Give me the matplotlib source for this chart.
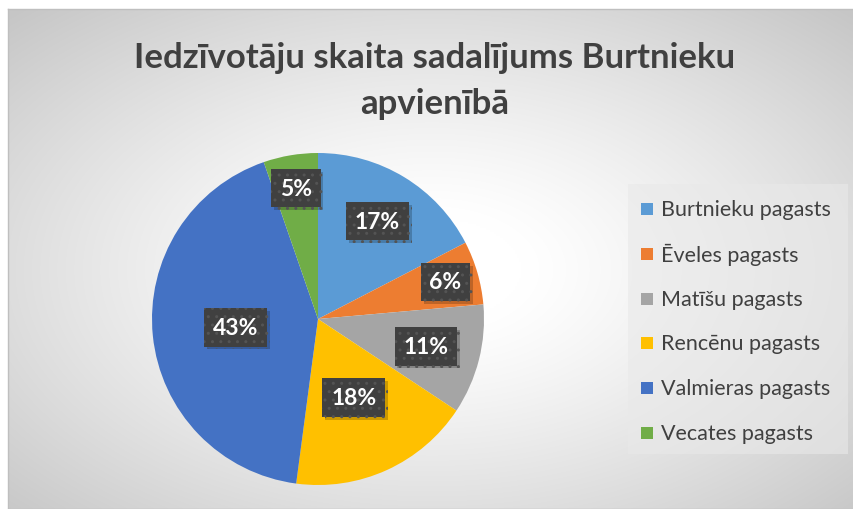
import numpy as np
import matplotlib
matplotlib.use("Agg")
import matplotlib.pyplot as plt
from matplotlib.patches import Rectangle
import matplotlib.patheffects as pe

categories = ["Burtnieku pagasts", "Ēveles pagasts", "Matīšu pagasts",
              "Rencēnu pagasts", "Valmieras pagasts", "Vecates pagasts"]
shares = [17.4, 6.2, 10.7, 17.8, 42.6, 5.3]
colors = ["#5B9BD5", "#ED7D31", "#A5A5A5", "#FFC000", "#4472C4", "#70AD47"]
title_lines = ["Iedzīvotāju skaita sadalījums Burtnieku", "apvienībā"]

label_radius = [0.69, 0.80, 0.67, 0.52, 0.50, 0.80]

FONT = ["Lato", "DejaVu Sans"]
plt.rcParams['font.family'] = FONT

W, H = 854, 510
fig = plt.figure(figsize=(W / 100, H / 100), dpi=100)
fig.patch.set_facecolor("white")

# background radial gradient chart area
bx0, by0 = 8, 10  # left, top in px
bg = fig.add_axes([bx0 / W, 0, (W - bx0) / W, (H - by0) / H], zorder=0)
ny, nx = 250, 420
yy, xx = np.mgrid[0:ny, 0:nx]
cx, cy = nx * 0.5, ny * 0.52
r = np.sqrt(((xx - cx) / (nx * 0.5)) ** 2 + ((yy - cy) / (ny * 0.5)) ** 2) / np.sqrt(2)
val = 1.0 - 0.22 * np.clip((r - 0.15) / 0.85, 0, 1) ** 1.2
img = np.dstack([val, val, val])
bg.imshow(img, aspect="auto", extent=[0, 1, 0, 1], interpolation="bilinear")
bg.set_xlim(0, 1); bg.set_ylim(0, 1)
bg.set_xticks([]); bg.set_yticks([])
for s in bg.spines.values():
    s.set_color("#bfbfbf"); s.set_linewidth(1.0)

# pie
pcx, pcy, pr = 318, 320, 166
ax = fig.add_axes([(pcx - pr) / W, (H - pcy - pr) / H, 2 * pr / W, 2 * pr / H], zorder=2)
wedges, _ = ax.pie(shares, colors=colors, startangle=90, counterclock=False,
                   radius=1.0, wedgeprops=dict(linewidth=0))
ax.set_xlim(-1, 1); ax.set_ylim(-1, 1)
ax.set_aspect("equal")
ax.axis("off")

total = sum(shares)
for w, v, lr in zip(wedges, shares, label_radius):
    th = np.deg2rad((w.theta1 + w.theta2) / 2)
    x, y = lr * np.cos(th), lr * np.sin(th)
    txt = f"{round(v / total * 100):d}%"
    t = ax.text(x, y, txt, ha="center", va="center", fontsize=16.5, fontweight="bold",
                color="white",
                bbox=dict(boxstyle="square,pad=0.38", fc="#404040", ec="#545454",
                          lw=0, hatch=".."))
    t.get_bbox_patch().set_path_effects(
        [pe.SimplePatchShadow(offset=(2, -2), shadow_rgbFace="black", alpha=0.2),
         pe.Normal()])

# title
for i, line in enumerate(title_lines):
    fig.text(435 / W, 1 - (58 + 46 * i) / H, line,
             ha="center", va="center", fontsize=25, fontweight="bold", color="#404040")

# legend
lx0, ly0, lx1, ly1 = 628, 185, 848, 455
fig.patches.append(Rectangle((lx0 / W, 1 - ly1 / H), (lx1 - lx0) / W, (ly1 - ly0) / H,
                             transform=fig.transFigure, fc="#e9e9e9", ec="none",
                             alpha=0.6, zorder=1))
for i, (c, col) in enumerate(zip(categories, colors)):
    yc = 210 + i * 44.8
    fig.patches.append(Rectangle((641 / W, 1 - (yc + 6) / H), 12 / W, 12 / H,
                                 transform=fig.transFigure, fc=col, ec="none", zorder=3))
    fig.text(661 / W, 1 - yc / H, c, ha="left", va="center", fontsize=15.5,
             color="#404040", zorder=3)

fig.savefig("out.png", dpi=100)
